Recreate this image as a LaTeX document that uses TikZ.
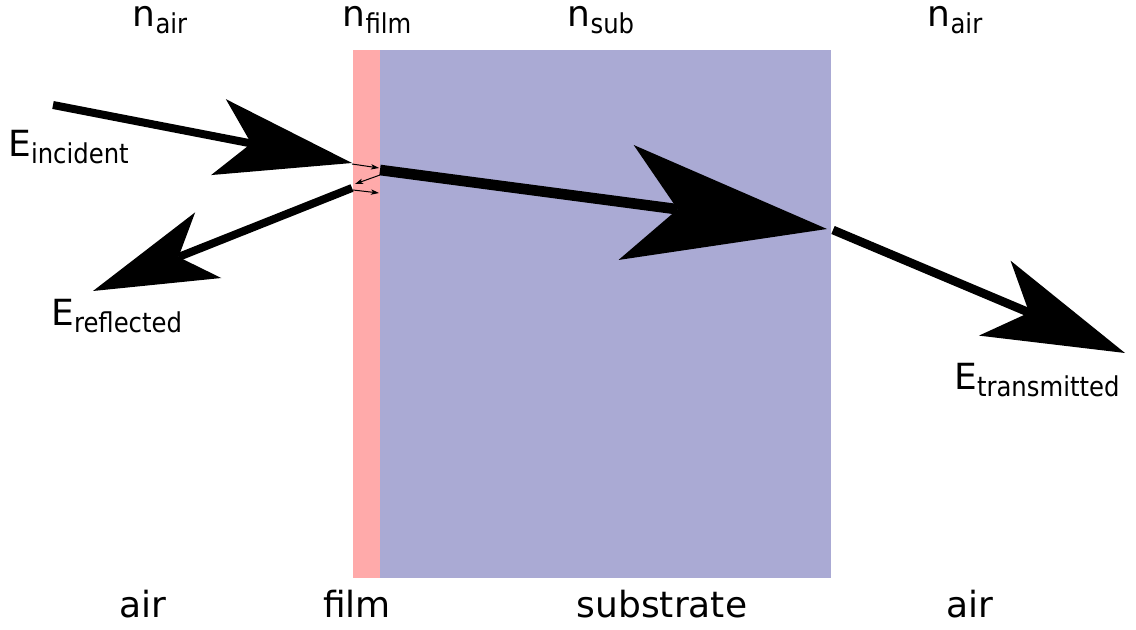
\documentclass[tikz,border=0pt]{standalone}
\usepackage{fontspec}
\usepackage{graphicx}
\setmainfont{DejaVu Sans}
\usetikzlibrary{arrows.meta}

\definecolor{filmcol}{RGB}{255,170,170}
\definecolor{subcol}{RGB}{170,170,212}

% label with a lowered, smaller, slightly narrowed subscript
\newcommand{\symsub}[2]{{\fontsize{27}{27}\selectfont #1}\raisebox{-5pt}{\scalebox{0.89}[1]{\fontsize{20.5}{20.5}\selectfont #2}}}

\tikzset{
  biglbl/.style={inner sep=0pt, anchor=base, font=\fontsize{27}{27}\selectfont},
  symlbl/.style={inner sep=0pt, anchor=base},
  ray/.style={line width=#1, line cap=butt},
  thinray/.style={line width=0.75pt, -{Stealth[length=6pt, width=4pt, inset=1.5pt]}},
}

\begin{document}
\begin{tikzpicture}[x=0.75pt, y=-0.75pt]
  \useasboundingbox (0,0) rectangle (1136,630);

  % layers
  \fill[filmcol] (353,50) rectangle (380,578);
  \fill[subcol]  (380,50) rectangle (831,578);

  % ray end points
  \coordinate (incS) at (53,105);
  \coordinate (incT) at (352,163);
  \coordinate (refS) at (352,188);
  \coordinate (refT) at (93,291);
  \coordinate (subS) at (380,170);
  \coordinate (subT) at (827,229);
  \coordinate (traS) at (833,230);
  \coordinate (traT) at (1125,353);

  % multiple reflections inside the film
  \coordinate (f1) at (352,164);
  \coordinate (f2) at (379,168);
  \coordinate (f3) at (380,175);
  \coordinate (f4) at (355,184);
  \coordinate (f5) at (353,190);
  \coordinate (f6) at (379,193);

  % main rays
  \draw[ray=6pt, -{Stealth[length=102pt, width=58pt, inset=25pt, line width=0pt]}] (incS) -- (incT);
  \draw[ray=6pt, -{Stealth[length=93pt, width=53pt, inset=24pt, line width=0pt]}] (refS) -- (refT);
  \draw[ray=8pt, -{Stealth[length=152pt, width=87pt, inset=39pt, line width=0pt]}] (subS) -- (subT);
  \draw[ray=6.5pt, -{Stealth[length=106pt, width=61pt, inset=28pt, line width=0pt]}] (traS) -- (traT);

  \draw[thinray] (f1) -- (f2);
  \draw[thinray] (f3) -- (f4);
  \draw[thinray] (f5) -- (f6);

  % refractive indices
  \node[symlbl] (nair1) at (160,27) {\symsub{n}{air}};
  \node[symlbl] (nfilm) at (377,27) {\symsub{n}{film}};
  \node[symlbl] (nsub)  at (601,27) {\symsub{n}{sub}};
  \node[symlbl] (nair2) at (955,27) {\symsub{n}{air}};

  % field labels
  \node[symlbl, anchor=base west] (einc) at (8,157) {\symsub{E}{incident}};
  \node[symlbl, anchor=base west] (eref) at (51,326) {\symsub{E}{reflected}};
  \node[symlbl, anchor=base west] (etra) at (954,390) {\symsub{E}{transmitted}};

  % media names
  \node[biglbl] (mair1) at (143,618) {air};
  \node[biglbl] (mfilm) at (357,618) {film};
  \node[biglbl] (msub)  at (662,618) {substrate};
  \node[biglbl] (mair2) at (970,618) {air};
\end{tikzpicture}
\end{document}
